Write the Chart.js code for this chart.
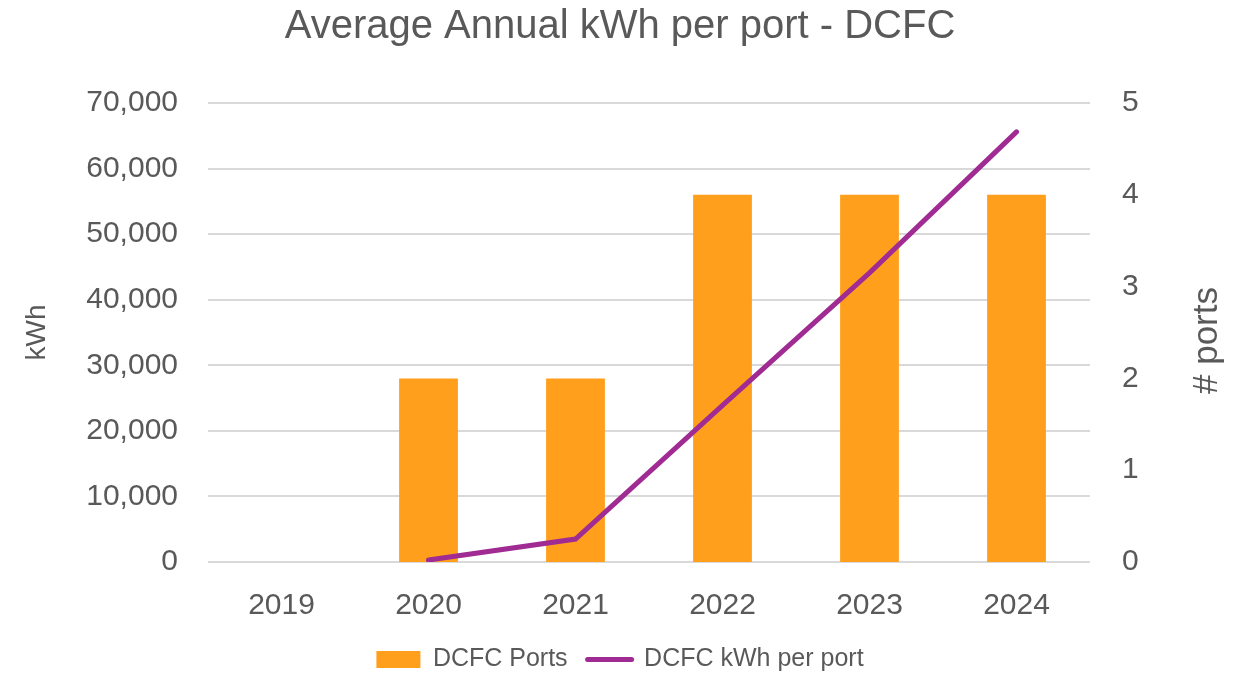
<!doctype html>
<html lang="en">
<head>
<meta charset="utf-8">
<title>Average Annual kWh per port - DCFC</title>
<script src="https://cdn.jsdelivr.net/npm/chart.js"></script>
<style>
  html, body { margin: 0; padding: 0; background: #fff; }
  #wrap { width: 1240px; height: 678px; }
</style>
</head>
<body>
<div id="wrap"><canvas id="myChart"></canvas></div>
<script>
  // data
  const years = ['2019', '2020', '2021', '2022', '2023', '2024'];
  const dcfcPorts = [0, 2, 2, 4, 4, 4];
  const kwhPerPort = [null, 300, 3500, 23900, 44100, 65600];
  const kwhTicks = [0, 10000, 20000, 30000, 40000, 50000, 60000, 70000];
  const portTicks = [0, 1, 2, 3, 4, 5];

  const TEXT = '#595959';
  const GRID = '#d9d9d9';
  const FONT = "'Liberation Sans', Arial, sans-serif";

  Chart.defaults.font.family = FONT;
  Chart.defaults.color = TEXT;

  // right axis title reads bottom-to-top like the left one
  const rightTitle = {
    id: 'rightTitle',
    afterDraw: function(chart) {
      const s = chart.scales.yPorts;
      const ctx = chart.ctx;
      ctx.save();
      ctx.translate(s.right - 33, (s.top + s.bottom) / 2 + 8);
      ctx.rotate(-Math.PI / 2);
      ctx.fillStyle = TEXT;
      ctx.font = "35px " + FONT;
      ctx.textAlign = 'center';
      ctx.textBaseline = 'middle';
      ctx.fillText('# ports', 0, 0);
      ctx.restore();
    }
  };

  const data = {
    labels: years,
    datasets: [{
      type: 'bar',
      label: 'DCFC Ports',
      data: dcfcPorts,
      backgroundColor: '#FF9F1C',
      yAxisID: 'yPorts',
      barPercentage: 0.4,
      categoryPercentage: 1.0,
      pointStyle: 'rect',
      order: 2
    }, {
      type: 'line',
      label: 'DCFC kWh per port',
      data: kwhPerPort,
      borderColor: '#A02B93',
      backgroundColor: '#A02B93',
      borderWidth: 5,
      borderCapStyle: 'round',
      pointRadius: 0,
      pointStyle: 'line',
      tension: 0,
      yAxisID: 'yKwh',
      order: 1
    }]
  };

  const config = {
    data: data,
    plugins: [rightTitle],
    options: {
      responsive: true,
      maintainAspectRatio: false,
      animation: false,
      layout: { padding: { left: 0, right: 0, top: 0, bottom: -4 } },
      plugins: {
        title: {
          display: true,
          text: 'Average Annual kWh per port - DCFC',
          color: TEXT,
          font: { size: 40, weight: 'normal' },
          padding: { top: 3, bottom: 52 }
        },
        legend: {
          position: 'bottom',
          labels: {
            color: TEXT,
            font: { size: 25 },
            usePointStyle: true,
            pointStyleWidth: 44,
            boxHeight: 17,
            padding: 20,
            sort: function(a, b) { return a.datasetIndex - b.datasetIndex; },
            generateLabels: function(chart) {
              const items = Chart.defaults.plugins.legend.labels.generateLabels(chart);
              items.forEach(function(it) {
                if (it.datasetIndex === 0) {
                  it.pointStyle = 'rect';
                  it.lineWidth = 0;
                  it.strokeStyle = 'rgba(0,0,0,0)';
                } else {
                  it.pointStyle = 'line';
                  it.lineWidth = 5;
                  it.lineCap = 'round';
                }
              });
              return items;
            }
          }
        },
        tooltip: { enabled: false }
      },
      scales: {
        x: {
          grid: { display: false },
          border: { display: false },
          ticks: { color: TEXT, font: { size: 30 }, padding: 18 },
          afterFit: function(scale) { scale.height = 65; }
        },
        yKwh: {
          position: 'left',
          min: 0,
          max: 70000,
          afterBuildTicks: function(scale) {
            scale.ticks = kwhTicks.map(function(v) { return { value: v }; });
          },
          afterFit: function(scale) { scale.width = 208; },
          grid: { color: GRID, lineWidth: 2, drawTicks: false },
          border: { display: false },
          ticks: { color: TEXT, font: { size: 30 }, padding: 30 },
          title: { display: true, text: 'kWh', color: TEXT, font: { size: 28 }, padding: { top: 20, bottom: 0 } }
        },
        yPorts: {
          position: 'right',
          min: 0,
          max: 5,
          afterBuildTicks: function(scale) {
            scale.ticks = portTicks.map(function(v) { return { value: v }; });
          },
          afterFit: function(scale) { scale.width = 150; },
          grid: { display: false },
          border: { display: false },
          ticks: { color: TEXT, font: { size: 30 }, padding: 24 }
        }
      }
    }
  };

  const myChart = new Chart(document.getElementById('myChart'), config);
</script>
</body>
</html>
